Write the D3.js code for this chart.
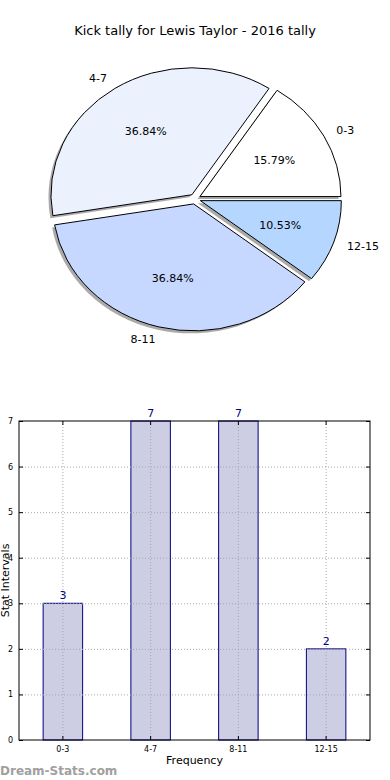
<!DOCTYPE html>
<html>
<head>
<meta charset="utf-8">
<script src="https://cdn.jsdelivr.net/npm/d3@7"></script>
<style>
  body { margin: 0; background: #fff; }
  svg { display: block; font-family: "DejaVu Sans", sans-serif; }
</style>
</head>
<body>
<div id="chart"></div>
<script>
var titleText = 'Kick tally for Lewis Taylor - 2016 tally';
var categories = ['0-3', '4-7', '8-11', '12-15'];
var counts = [3, 7, 7, 2];
var sliceColors = ['#ffffff', '#ebf2fe', '#c6d8ff', '#b4d6ff'];
var yTicks = [0, 1, 2, 3, 4, 5, 6, 7];

var width = 390, height = 780;

var svg = d3.select('#chart').append('svg')
  .attr('width', width)
  .attr('height', height);

svg.append('text')
  .attr('x', 195)
  .attr('y', 35)
  .attr('text-anchor', 'middle')
  .style('font-size', '13px')
  .text(titleText);

// ---- pie (matplotlib style: elliptical, exploded, shadowed) ----
var pieDims = { cx: 195, cy: 199, rx: 141, ry: 127, explode: 0.04 };

var pie = d3.pie().sort(null).startAngle(Math.PI / 2).endAngle(Math.PI / 2 - 2 * Math.PI);
var slices = pie(counts);
var total = d3.sum(counts);

var arc = d3.arc().innerRadius(0).outerRadius(1);

// matplotlib angle of slice middle (ccw from east)
var midAngle = function(d) {
  return Math.PI / 2 - (d.startAngle + d.endAngle) / 2;
};
var pointAt = function(d, dist) {
  let a = midAngle(d);
  return [pieDims.cx + dist * pieDims.rx * Math.cos(a), pieDims.cy - dist * pieDims.ry * Math.sin(a)];
};

var pieG = svg.append('g');

// shadows first
pieG.selectAll('path.shadow')
  .data(slices)
  .enter()
  .append('path')
  .attr('class', 'shadow')
  .attr('d', arc)
  .attr('fill', '#555')
  .attr('fill-opacity', 0.5)
  .attr('transform', function(d) {
    let p = pointAt(d, pieDims.explode);
    return 'translate(' + (p[0] - 2.5) + ',' + (p[1] + 2.5) + ') scale(' + pieDims.rx + ',' + pieDims.ry + ')';
  });

pieG.selectAll('path.wedge')
  .data(slices)
  .enter()
  .append('path')
  .attr('class', 'wedge')
  .attr('d', arc)
  .attr('fill', function(d, i) { return sliceColors[i]; })
  .attr('stroke', '#000')
  .attr('stroke-width', 1)
  .attr('vector-effect', 'non-scaling-stroke')
  .attr('stroke-linejoin', 'miter')
  .attr('transform', function(d) {
    let p = pointAt(d, pieDims.explode);
    return 'translate(' + p[0] + ',' + p[1] + ') scale(' + pieDims.rx + ',' + pieDims.ry + ')';
  });

pieG.selectAll('text.label')
  .data(slices)
  .enter()
  .append('text')
  .attr('class', 'label')
  .attr('x', function(d) { return pointAt(d, pieDims.explode + 1.1)[0]; })
  .attr('y', function(d) { return pointAt(d, pieDims.explode + 1.1)[1]; })
  .attr('dy', '0.35em')
  .attr('text-anchor', function(d) { return Math.cos(midAngle(d)) > 0 ? 'start' : 'end'; })
  .style('font-size', '11px')
  .text(function(d, i) { return categories[i]; });

pieG.selectAll('text.pct')
  .data(slices)
  .enter()
  .append('text')
  .attr('class', 'pct')
  .attr('x', function(d) { return pointAt(d, pieDims.explode + 0.6)[0]; })
  .attr('y', function(d) { return pointAt(d, pieDims.explode + 0.6)[1]; })
  .attr('dy', '0.35em')
  .attr('text-anchor', 'middle')
  .style('font-size', '11px')
  .text(function(d) { return (d.value / total * 100).toFixed(2) + '%'; });

// ---- bar chart ----
var box = { left: 19, right: 370, top: 421, bottom: 740 };

var x = d3.scaleBand().domain(categories).range([box.left, box.right]).padding(0);
var y = d3.scaleLinear().domain([0, 7]).range([box.bottom, box.top]);
var barWidth = x.bandwidth() * 0.45;

var barG = svg.append('g');

barG.selectAll('rect.bar')
  .data(counts)
  .enter()
  .append('rect')
  .attr('class', 'bar')
  .attr('x', function(d, i) { return x(categories[i]) + x.bandwidth() / 2 - barWidth / 2; })
  .attr('y', function(d) { return y(d); })
  .attr('width', barWidth)
  .attr('height', function(d) { return y(0) - y(d); })
  .attr('fill', '#cdcde3')
  .attr('stroke', '#000080')
  .attr('stroke-width', 1);

// grid (drawn over bars)
barG.selectAll('line.hgrid')
  .data(yTicks.slice(1, -1))
  .enter()
  .append('line')
  .attr('x1', box.left).attr('x2', box.right)
  .attr('y1', function(d) { return y(d) + 0.5; })
  .attr('y2', function(d) { return y(d) + 0.5; })
  .attr('stroke', '#a8a8a8')
  .attr('stroke-dasharray', '1,2');

barG.selectAll('line.vgrid')
  .data(categories)
  .enter()
  .append('line')
  .attr('x1', function(d) { return x(d) + x.bandwidth() / 2; })
  .attr('x2', function(d) { return x(d) + x.bandwidth() / 2; })
  .attr('y1', box.top).attr('y2', box.bottom)
  .attr('stroke', '#a8a8a8')
  .attr('stroke-dasharray', '1,2');

barG.selectAll('text.value')
  .data(counts)
  .enter()
  .append('text')
  .attr('x', function(d, i) { return x(categories[i]) + x.bandwidth() / 2; })
  .attr('y', function(d) { return y(d) - 4; })
  .attr('text-anchor', 'middle')
  .attr('fill', '#000080')
  .style('font-size', '11px')
  .text(function(d) { return d; });

// axes with inward ticks
var yAxis = d3.axisLeft(y).tickValues(yTicks).tickSize(-4).tickPadding(6).tickFormat(d3.format('d'));
var yAxisR = d3.axisRight(y).tickValues(yTicks).tickSize(-4).tickFormat('');
var xAxis = d3.axisBottom(x).tickSize(-4).tickPadding(6);
var xAxisT = d3.axisTop(x).tickSize(-4).tickFormat('');

var styleAxis = function(g) {
  g.select('.domain').remove();
  g.selectAll('line').attr('stroke', '#000');
  g.selectAll('text').style('font-size', '8px').style('font-family', '"DejaVu Sans", sans-serif');
};

svg.append('g').attr('transform', 'translate(' + box.left + ',0)').call(yAxis).call(styleAxis);
svg.append('g').attr('transform', 'translate(' + box.right + ',0)').call(yAxisR).call(styleAxis);
svg.append('g').attr('transform', 'translate(0,' + box.bottom + ')').call(xAxis).call(styleAxis);
svg.append('g').attr('transform', 'translate(0,' + box.top + ')').call(xAxisT).call(styleAxis);

svg.append('rect')
  .attr('x', box.left).attr('y', box.top)
  .attr('width', box.right - box.left)
  .attr('height', box.bottom - box.top)
  .attr('fill', 'none')
  .attr('stroke', '#000')
  .attr('stroke-width', 1);

svg.append('text')
  .attr('x', (box.left + box.right) / 2)
  .attr('y', 764)
  .attr('text-anchor', 'middle')
  .style('font-size', '11px')
  .text('Frequency');

svg.append('text')
  .attr('transform', 'translate(9,' + ((box.top + box.bottom) / 2) + ') rotate(-90)')
  .attr('text-anchor', 'middle')
  .style('font-size', '11px')
  .text('Stat Intervals');

svg.append('text')
  .attr('x', 0)
  .attr('y', 775)
  .attr('fill', '#a0a0a0')
  .style('font-size', '12px')
  .style('font-weight', 'bold')
  .text('Dream-Stats.com');
</script>
</body>
</html>
